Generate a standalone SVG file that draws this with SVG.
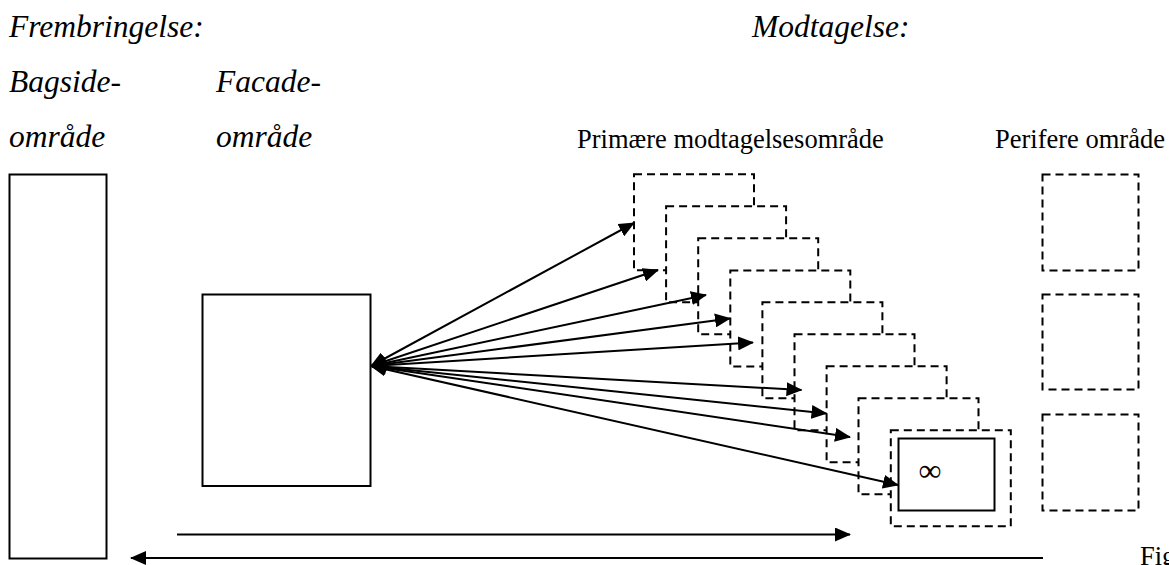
<svg xmlns="http://www.w3.org/2000/svg" width="1169" height="565" viewBox="0 0 1169 565">
<style>
.it{font-family:"Liberation Serif","Times New Roman",serif;font-style:italic;font-size:31.5px;fill:#000}
.rg{font-family:"Liberation Serif","Times New Roman",serif;font-size:26.5px;fill:#000}
.inf{font-family:"Liberation Serif","Times New Roman",serif;font-size:32px;fill:#000}
.solid{fill:#fff;stroke:#000;stroke-width:2}
.dash{fill:#fff;stroke:#000;stroke-width:2;stroke-dasharray:8 5}
.arr{fill:none;stroke:#000;stroke-width:2}
</style>
<defs>
<marker id="ah" viewBox="0 0 16 14" refX="15" refY="7" markerWidth="16" markerHeight="14" markerUnits="userSpaceOnUse" orient="auto-start-reverse">
<path d="M0,0 L16,7 L0,14 z" fill="#000"/>
</marker>
</defs>
<rect width="1169" height="565" fill="#fff"/>
<g id="labels">
<text class="it" x="9" y="37">Frembringelse:</text>
<text class="it" x="752" y="37">Modtagelse:</text>
<text class="it" x="9" y="92">Bagside-</text>
<text class="it" x="9" y="147">område</text>
<text class="it" x="216" y="92">Facade-</text>
<text class="it" x="216" y="147">område</text>
<text class="rg" x="577" y="148">Primære modtagelsesområde</text>
<text class="rg" x="995" y="148">Perifere område</text>
<text class="rg" x="1140" y="565">Fig</text>
</g>
<g id="bagside"><rect class="solid" x="9.5" y="174.5" width="97" height="384"/></g>
<g id="facade"><rect class="solid" x="202.5" y="294.5" width="168" height="191.5"/></g>
<g id="primaer">
<rect class="dash" x="634" y="174.3" width="120" height="96"/>
<rect class="dash" x="666.1" y="206.3" width="120" height="96"/>
<rect class="dash" x="698.2" y="238.3" width="120" height="96"/>
<rect class="dash" x="730.3" y="270.5" width="120" height="96"/>
<rect class="dash" x="762.4" y="302.2" width="120" height="96"/>
<rect class="dash" x="794.5" y="334.2" width="120" height="96"/>
<rect class="dash" x="826.6" y="366.2" width="120" height="96"/>
<rect class="dash" x="858.5" y="398.3" width="120" height="96"/>
<rect class="dash" x="890.8" y="430.3" width="120" height="96"/>
</g>
<g id="infinity-box">
<rect class="solid" x="898.5" y="438.5" width="96" height="72"/>
<text class="inf" x="930" y="481" text-anchor="middle">∞</text>
</g>
<g id="perifere">
<rect class="dash" x="1042.5" y="174.5" width="96" height="96"/>
<rect class="dash" x="1042.5" y="294.5" width="96" height="95"/>
<rect class="dash" x="1042.5" y="414.5" width="96" height="96"/>
</g>
<g id="connectors">
<line class="arr" x1="371" y1="366" x2="634" y2="223" marker-start="url(#ah)" marker-end="url(#ah)"/>
<line class="arr" x1="371" y1="366" x2="658" y2="270" marker-start="url(#ah)" marker-end="url(#ah)"/>
<line class="arr" x1="371" y1="366" x2="706" y2="295" marker-start="url(#ah)" marker-end="url(#ah)"/>
<line class="arr" x1="371" y1="366" x2="730" y2="318.5" marker-start="url(#ah)" marker-end="url(#ah)"/>
<line class="arr" x1="371" y1="366" x2="753" y2="342.5" marker-start="url(#ah)" marker-end="url(#ah)"/>
<line class="arr" x1="371" y1="366" x2="801.5" y2="390" marker-start="url(#ah)" marker-end="url(#ah)"/>
<line class="arr" x1="371" y1="366" x2="826.5" y2="413.5" marker-start="url(#ah)" marker-end="url(#ah)"/>
<line class="arr" x1="371" y1="366" x2="850" y2="437" marker-start="url(#ah)" marker-end="url(#ah)"/>
<line class="arr" x1="371" y1="366" x2="898" y2="485" marker-start="url(#ah)" marker-end="url(#ah)"/>
<line class="arr" x1="177" y1="534.5" x2="850" y2="534.5" marker-end="url(#ah)"/>
<line class="arr" x1="1043" y1="558" x2="131" y2="558" marker-end="url(#ah)"/>
</g>
</svg>
